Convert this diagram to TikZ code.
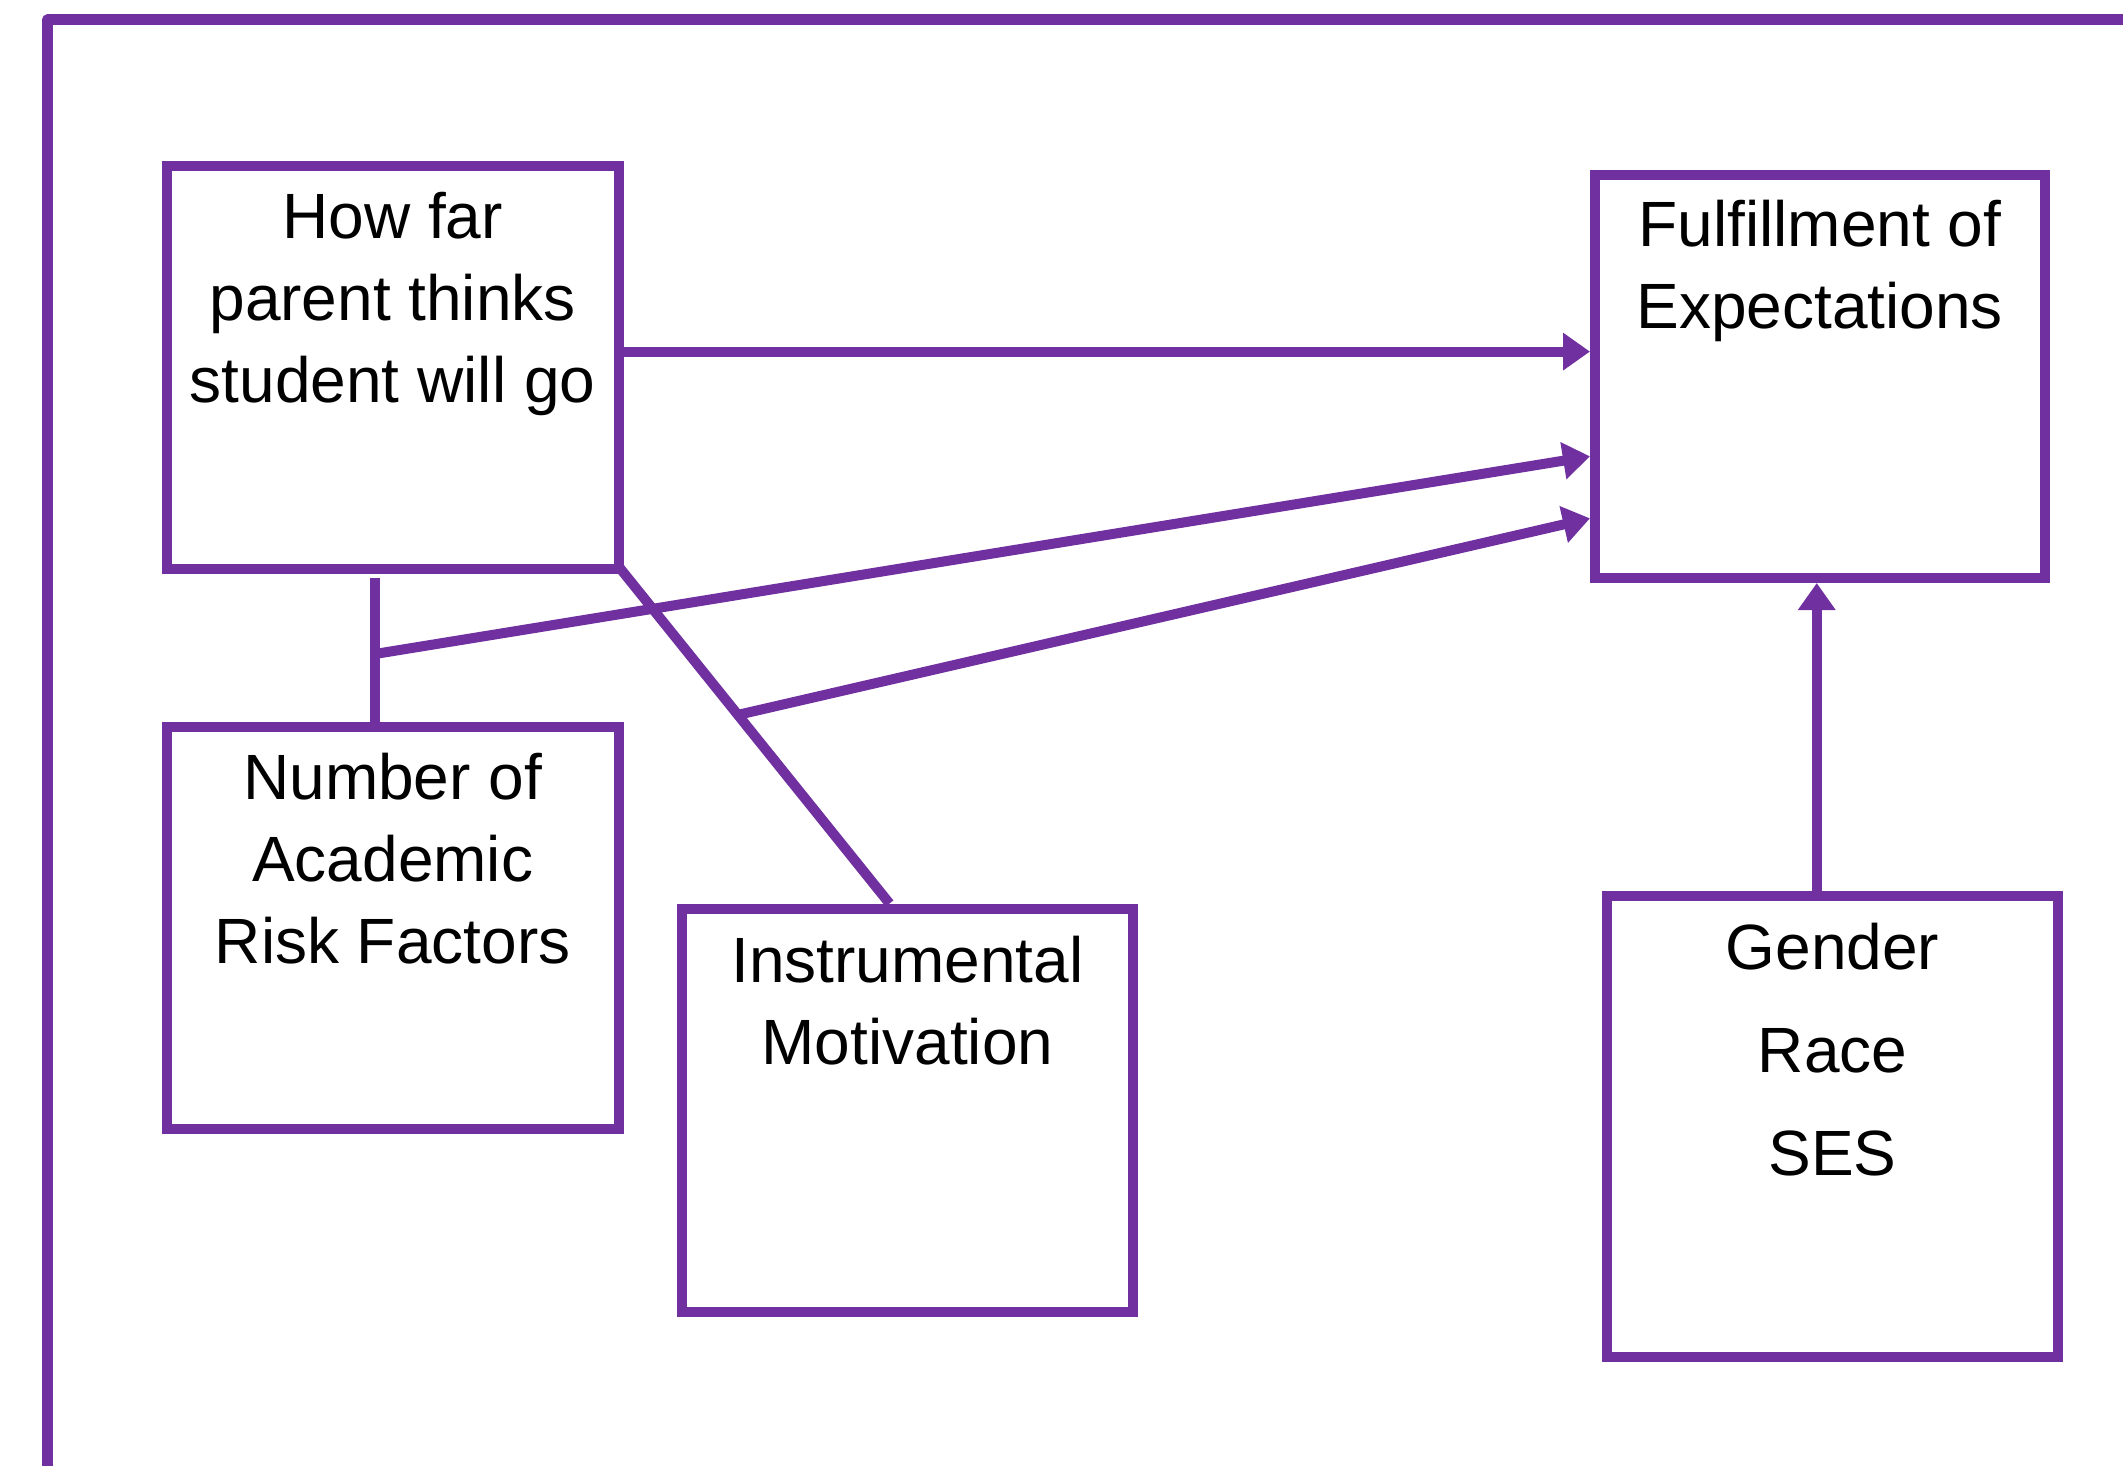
\documentclass[tikz,border=0pt]{standalone}
\usepackage{fontspec}
\setmainfont{Liberation Sans}
\usetikzlibrary{arrows.meta,calc}
\definecolor{vio}{HTML}{7030A0}
\begin{document}
\begin{tikzpicture}[x=1pt,y=-1pt,
  box/.style={draw=vio,line width=10pt,rectangle,inner sep=0pt},
  lbl/.style={anchor=base,align=center,inner sep=0pt,font=\fontsize{64}{82}\selectfont},
  conn/.style={draw=vio,line width=10pt},
  arr/.style={conn,-{Triangle[length=27pt,width=36pt]}},
  frame/.style={draw=vio,line width=11pt,line join=round}]
\useasboundingbox (0,0) rectangle (2123,1466);
\draw[frame] (2140,20) -- (47.5,20) -- (47.5,1480);
% boxes
\node[box,minimum width=452.3pt,minimum height=402.2pt] (b1) at (392.65,367.6) {};
\node[box,minimum width=449.5pt,minimum height=403.3pt] (b2) at (1819.75,376.35) {};
\node[box,minimum width=452.3pt,minimum height=402pt] (b3) at (392.65,928) {};
\node[box,minimum width=451pt,minimum height=403.5pt] (b4) at (907.5,1110.25) {};
\node[box,minimum width=451pt,minimum height=461pt] (b5) at (1832.5,1126.5) {};
% texts (anchored at the baseline of the last line)
\node[lbl] (t1) at (392.65,402) {How far\\parent thinks\\student will go};
\node[lbl] (t2) at (1819.75,328) {Fulfillment of\\Expectations};
\node[lbl] (t3) at (392.65,963) {Number of\\Academic\\Risk Factors};
\node[lbl] (t4) at (907.5,1064) {Instrumental\\Motivation};
\node[lbl,font=\fontsize{64}{103}\selectfont] (t5) at (1832.5,1175.5) {Gender\\Race\\SES};
% connectors
\draw[arr] ($(b1.east)+(0,-16)$) coordinate (a1) -- (a1 -| b2.west);
\coordinate (v1) at (375,578);
\coordinate (j1) at (375,654);
\draw[conn] (v1) -- (v1 |- b3.north);
\draw[arr] (j1) -- ($(b2.west)+(0,80)$);
\coordinate (d0) at ($(b1.south east)+(-5,-7)$);
\coordinate (d1) at ($(b4.north)+(-18,0)$);
\draw[conn] (d0) -- (d1);
\coordinate (j2) at ($(d0)!0.44!(d1)$);
\draw[arr] (j2) -- ($(b2.west)+(0,142)$);
\coordinate (u1) at ($(b2.south)+(-3,0)$);
\draw[arr] (b5.north -| u1) -- (u1);
\end{tikzpicture}
\end{document}
